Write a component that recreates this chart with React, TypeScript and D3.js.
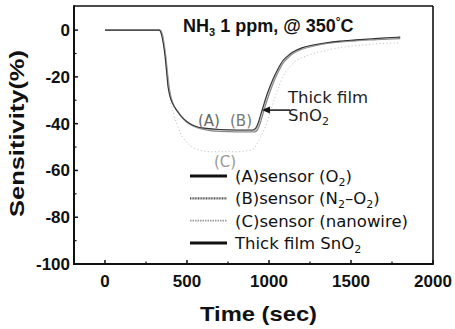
import React from "react";
import * as d3 from "d3";

// Time axis (sec) and sensitivity (%) for each sensor response
const timeA = [0, 330, 345, 356, 366, 376, 384, 395, 410, 439, 480, 518, 570, 622, 700, 800, 900, 918, 935, 950, 963, 990, 1024, 1055, 1085, 1115, 1146, 1200, 1268, 1350, 1433, 1530, 1634, 1720, 1800];
const valA = [0, 0, -2, -6, -11, -18, -24, -28, -31, -34.5, -38, -40, -41.5, -42, -42.5, -42.7, -42.7, -42, -39.5, -36, -33, -27, -21, -16.5, -13, -11, -9.4, -7.6, -6.4, -5.4, -4.7, -4.2, -3.7, -3.3, -3.0];

const timeB = [0, 335, 350, 360, 370, 380, 390, 400, 415, 445, 485, 525, 575, 630, 700, 800, 910, 928, 945, 960, 972, 1000, 1032, 1062, 1092, 1122, 1152, 1205, 1275, 1355, 1440, 1535, 1640, 1725, 1800];
const valB = [0, 0, -2, -6, -11, -18, -24, -28, -31.5, -35, -38.5, -40.5, -42, -42.8, -43.3, -43.5, -43.5, -42.8, -40, -36.5, -33.5, -27.5, -21.5, -17, -13.5, -11.4, -9.8, -8, -6.7, -5.7, -5, -4.5, -4.1, -3.8, -3.6];

const timeC = [0, 340, 355, 370, 390, 420, 460, 500, 560, 650, 800, 900, 940, 980, 1030, 1085, 1150, 1230, 1330, 1450, 1600, 1800];
const valC = [0, 0, -4, -15, -27, -36, -44, -48, -51, -52, -52, -51, -47, -41, -30, -20, -14, -11, -9, -7.3, -6.2, -5.4];

const timeThick = [0, 332, 347, 358, 368, 378, 386, 397, 412, 441, 482, 520, 572, 625, 700, 800, 905, 922, 939, 954, 966, 994, 1028, 1058, 1088, 1118, 1149, 1203, 1271, 1352, 1436, 1532, 1636, 1722, 1800];
const valThick = [0, 0, -2, -6, -11, -18, -24, -28, -31.2, -34.7, -38.2, -40.2, -41.7, -42.3, -42.8, -43, -43, -42.3, -39.8, -36.2, -33.2, -27.2, -21.2, -16.7, -13.2, -11.2, -9.6, -7.8, -6.5, -5.5, -4.8, -4.3, -3.8, -3.4, -3.1];

const xTicks = [0, 500, 1000, 1500, 2000];
const xMinor = [250, 750, 1250, 1750];
const yTicks = [0, -20, -40, -60, -80, -100];
const yMinor = [-10, -30, -50, -70, -90];

// Arrow pointing from the "Thick film SnO2" note to the rising edge
const arrowTail = { t: 1128, v: -34.2 };
const arrowTip = { t: 957, v: -34.2 };

const W = 455;
const H = 329;
const left = 74, right = 433, top = 6, bottom = 264;

const legendItems = [
  { label: "(A)sensor (O", sub: "2", tail: ")", color: "#111", width: 3, dash: "" },
  { label: "(B)sensor (N", sub: "2", tail: "–O", sub2: "2", tail2: ")", color: "#555", width: 2.2, dash: "1,0.6" },
  { label: "(C)sensor (nanowire)", color: "#999", width: 1.6, dash: "1.5,1" },
  { label: "Thick film SnO", sub: "2", tail: "", color: "#111", width: 3, dash: "" },
];

export default function App() {
  const x = d3.scaleLinear().domain([-189, 2000]).range([left, right]);
  const y = d3.scaleLinear().domain([-100, 10.3]).range([bottom, top]);

  const line = d3
    .line<[number, number]>()
    .x((d) => x(d[0]))
    .y((d) => y(d[1]))
    .curve(d3.curveMonotoneX);

  const zip = (t: number[], v: number[]) => t.map((tt, i) => [tt, v[i]] as [number, number]);

  const sansBold = "'Liberation Sans', Arial, sans-serif";
  const deja = "'DejaVu Sans', sans-serif";

  const tipX = x(arrowTip.t);
  const tipY = y(arrowTip.v);

  return (
    <svg width={W} height={H} style={{ position: "absolute", left: 0, top: 0, background: "#fff" }}>
      {/* data curves */}
      <path d={line(zip(timeC, valC)) || ""} fill="none" stroke="#bbb" strokeWidth={1} strokeDasharray="1,2.5" />
      <path d={line(zip(timeB, valB)) || ""} fill="none" stroke="#888" strokeWidth={1.4} />
      <path d={line(zip(timeThick, valThick)) || ""} fill="none" stroke="#bbb" strokeWidth={1.2} />
      <path d={line(zip(timeA, valA)) || ""} fill="none" stroke="#333" strokeWidth={1.1} />

      {/* frame */}
      <line x1={left} y1={top} x2={right} y2={top} stroke="#111" strokeWidth={1.6} />
      <line x1={right} y1={top} x2={right} y2={bottom} stroke="#111" strokeWidth={1.6} />
      <line x1={left} y1={top - 0.8} x2={left} y2={bottom + 1} stroke="#111" strokeWidth={2} />
      <line x1={left - 1} y1={bottom} x2={right + 0.8} y2={bottom} stroke="#111" strokeWidth={2} />

      {/* x ticks */}
      {xTicks.map((t) => (
        <g key={"xt" + t}>
          <line x1={x(t)} x2={x(t)} y1={bottom} y2={bottom - 4} stroke="#111" strokeWidth={1.5} />
          <text x={x(t)} y={287} textAnchor="middle" fontFamily={sansBold} fontWeight="bold" fontSize={17} fill="#111">
            {t}
          </text>
        </g>
      ))}
      {xMinor.map((t) => (
        <line key={"xm" + t} x1={x(t)} x2={x(t)} y1={bottom} y2={bottom - 2.5} stroke="#111" strokeWidth={1.2} />
      ))}

      {/* y ticks */}
      {yTicks.map((v) => (
        <g key={"yt" + v}>
          <line x1={left} x2={left + 4} y1={y(v)} y2={y(v)} stroke="#111" strokeWidth={1.5} />
          <text x={left - 4} y={y(v) + 6} textAnchor="end" fontFamily={sansBold} fontWeight="bold" fontSize={17} fill="#111">
            {v}
          </text>
        </g>
      ))}
      {yMinor.map((v) => (
        <line key={"ym" + v} x1={left} x2={left + 2.5} y1={y(v)} y2={y(v)} stroke="#111" strokeWidth={1.2} />
      ))}

      {/* axis titles */}
      <text
        transform={`translate(24,133.5) rotate(-90)`}
        textAnchor="middle"
        fontFamily={sansBold}
        fontWeight="bold"
        fontSize={21}
        textLength={167}
        lengthAdjust="spacingAndGlyphs"
        fill="#111"
      >
        Sensitivity(%)
      </text>
      <text x={258.5} y={321} textAnchor="middle" fontFamily={sansBold} fontWeight="bold" fontSize={21} textLength={117} lengthAdjust="spacingAndGlyphs" fill="#111">
        Time (sec)
      </text>

      {/* chart title */}
      <text x={183} y={32} fontFamily={sansBold} fontWeight="bold" fontSize={18} fill="#111">
        NH
        <tspan fontSize={11} dy={4}>3</tspan>
        <tspan dy={-4}> 1 ppm, @ 350</tspan>
        <tspan fontSize={12} dy={-6}>°</tspan>
        <tspan dy={6}>C</tspan>
      </text>

      {/* curve labels */}
      <text x={198} y={126} fontFamily={deja} fontSize={15} fill="#666">(A)</text>
      <text x={230} y={126} fontFamily={deja} fontSize={15} fill="#777">(B)</text>
      <text x={214} y={167} fontFamily={deja} fontSize={15} fill="#999">(C)</text>

      {/* annotation with arrow */}
      <line x1={x(arrowTail.t)} y1={y(arrowTail.v)} x2={tipX + 5} y2={tipY} stroke="#111" strokeWidth={1.5} />
      <path d={`M${tipX},${tipY} L${tipX + 8},${tipY - 3.5} L${tipX + 8},${tipY + 3.5} Z`} fill="#111" />
      <text x={288} y={103} fontFamily={deja} fontSize={16.5} fill="#222">Thick film</text>
      <text x={288} y={121} fontFamily={deja} fontSize={16.5} fill="#222">
        SnO<tspan fontSize={11} dy={4}>2</tspan>
      </text>

      {/* legend */}
      {legendItems.map((it, i) => {
        const ly = 176 + i * 22.3;
        return (
          <g key={"lg" + i}>
            <line x1={190} x2={227} y1={ly} y2={ly} stroke={it.color} strokeWidth={it.width} strokeDasharray={it.dash || undefined} />
            <text x={235} y={ly + 6} fontFamily={deja} fontSize={16.5} fill="#111">
              {it.label}
              {it.sub && <tspan fontSize={11} dy={4}>{it.sub}</tspan>}
              {it.tail !== undefined && <tspan dy={it.sub ? -4 : 0}>{it.tail}</tspan>}
              {it.sub2 && <tspan fontSize={11} dy={4}>{it.sub2}</tspan>}
              {it.tail2 && <tspan dy={-4}>{it.tail2}</tspan>}
            </text>
          </g>
        );
      })}
    </svg>
  );
}
